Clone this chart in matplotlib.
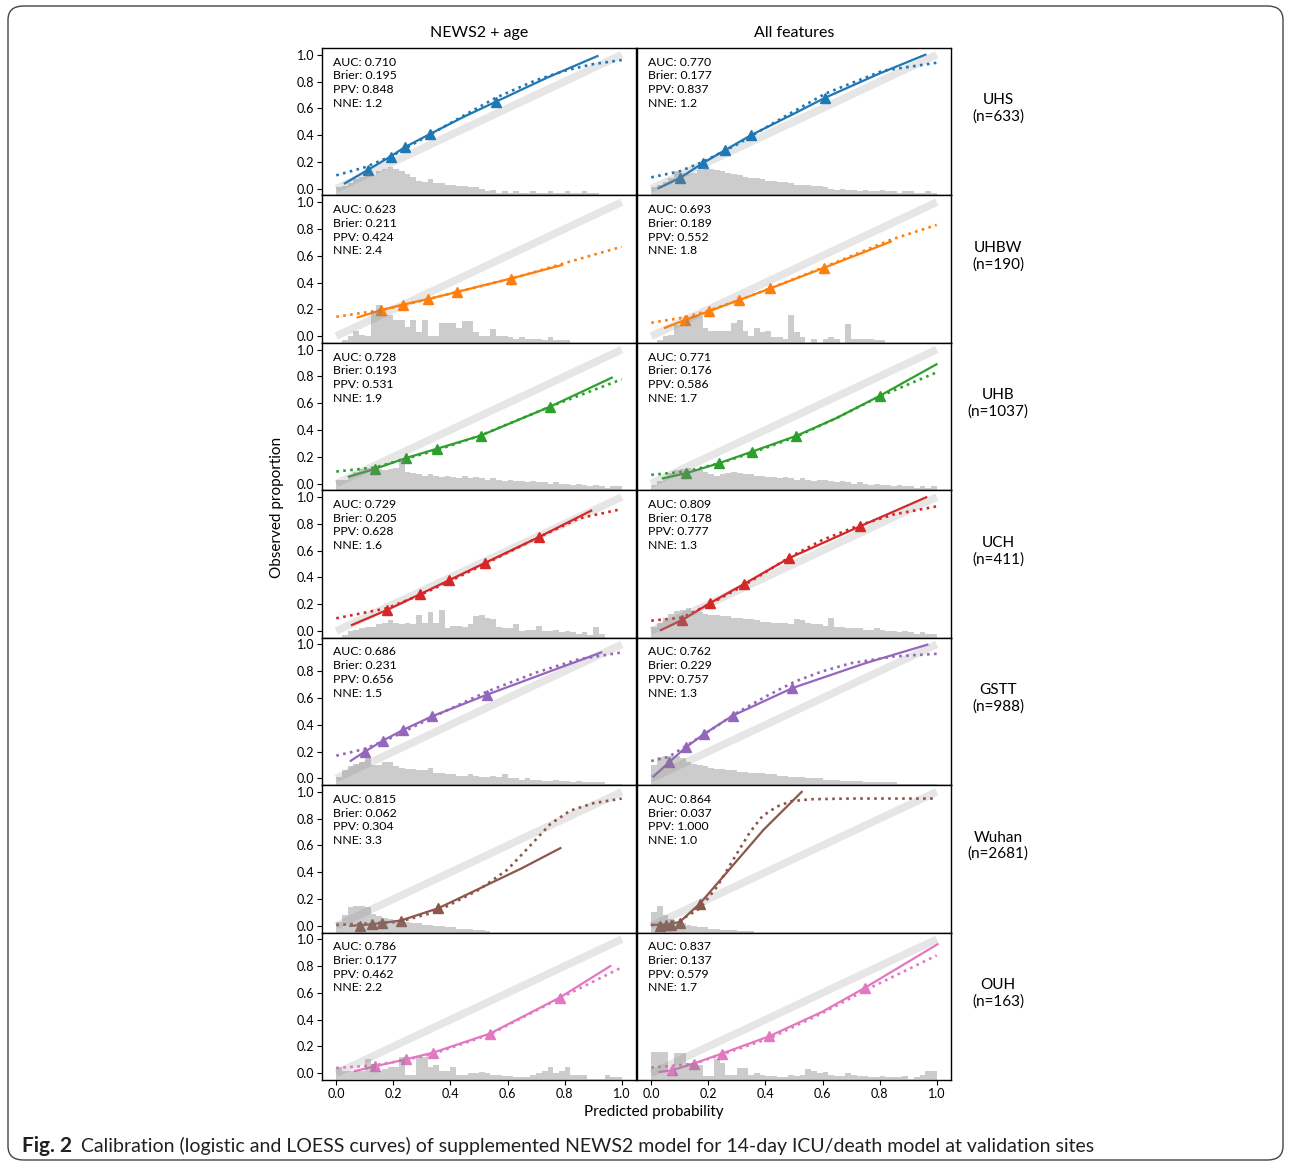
import numpy as np
import matplotlib
matplotlib.use('Agg')
import matplotlib.pyplot as plt
from matplotlib.patches import FancyBboxPatch

plt.rcParams['font.family'] = ['Lato', 'DejaVu Sans']

# sites / models
sites = ['UHS', 'UHBW', 'UHB', 'UCH', 'GSTT', 'Wuhan', 'OUH']
site_n = [633, 190, 1037, 411, 988, 2681, 163]
models = ['NEWS2 + age', 'All features']
site_colors = ['#1f77b4', '#ff7f0e', '#2ca02c', '#d62728', '#9467bd', '#8c564b', '#e377c2']

# metrics (NEWS2 + age)
auc_age = [0.710, 0.623, 0.728, 0.729, 0.686, 0.815, 0.786]
brier_age = [0.195, 0.211, 0.193, 0.205, 0.231, 0.062, 0.177]
ppv_age = [0.848, 0.424, 0.531, 0.628, 0.656, 0.304, 0.462]
nne_age = [1.2, 2.4, 1.9, 1.6, 1.5, 3.3, 2.2]
# metrics (All features)
auc_all = [0.770, 0.693, 0.771, 0.809, 0.762, 0.864, 0.837]
brier_all = [0.177, 0.189, 0.176, 0.178, 0.229, 0.037, 0.137]
ppv_all = [0.837, 0.552, 0.586, 0.777, 0.757, 1.000, 0.579]
nne_all = [1.2, 1.8, 1.7, 1.3, 1.3, 1.0, 1.7]

# logistic fit (solid), LOESS (dotted), binned points (triangles), as (pred, obs)
uhs_age_fit = [(0.03, 0.04), (0.11, 0.14), (0.19, 0.24), (0.24, 0.31), (0.33, 0.41), (0.45, 0.54), (0.56, 0.65), (0.74, 0.83), (0.915, 0.99)]
uhs_age_loess = [(0.0, 0.10), (0.1, 0.16), (0.2, 0.25), (0.3, 0.37), (0.45, 0.55), (0.56, 0.68), (0.7, 0.81), (0.8, 0.88), (0.9, 0.93), (1.0, 0.96)]
uhs_age_bins = [(0.11, 0.14), (0.19, 0.24), (0.24, 0.31), (0.33, 0.41), (0.56, 0.65)]
uhs_all_fit = [(0.026, 0.005), (0.10, 0.08), (0.18, 0.19), (0.26, 0.29), (0.35, 0.40), (0.5, 0.56), (0.61, 0.68), (0.8, 0.86), (0.96, 1.0)]
uhs_all_loess = [(0.0, 0.085), (0.1, 0.13), (0.18, 0.20), (0.3, 0.33), (0.46, 0.53), (0.61, 0.71), (0.81, 0.88), (1.0, 0.94)]
uhs_all_bins = [(0.10, 0.08), (0.18, 0.19), (0.26, 0.29), (0.35, 0.40), (0.61, 0.68)]

uhbw_age_fit = [(0.075, 0.14), (0.157, 0.194), (0.235, 0.236), (0.321, 0.276), (0.423, 0.33), (0.612, 0.43), (0.79, 0.53)]
uhbw_age_loess = [(0.0, 0.145), (0.16, 0.195), (0.32, 0.275), (0.5, 0.37), (0.65, 0.45), (0.8, 0.545), (1.0, 0.667)]
uhbw_age_bins = [(0.157, 0.194), (0.235, 0.236), (0.321, 0.276), (0.423, 0.33), (0.612, 0.43)]
uhbw_all_fit = [(0.048, 0.062), (0.117, 0.12), (0.203, 0.187), (0.307, 0.269), (0.417, 0.356), (0.605, 0.51), (0.839, 0.705)]
uhbw_all_loess = [(0.0, 0.10), (0.117, 0.14), (0.2, 0.19), (0.31, 0.27), (0.42, 0.36), (0.6, 0.51), (0.84, 0.72), (1.0, 0.83)]
uhbw_all_bins = [(0.117, 0.12), (0.203, 0.187), (0.307, 0.269), (0.417, 0.356), (0.605, 0.51)]

uhb_age_fit = [(0.044, 0.052), (0.136, 0.11), (0.243, 0.19), (0.353, 0.26), (0.506, 0.358), (0.75, 0.575), (0.965, 0.79)]
uhb_age_loess = [(0.0, 0.09), (0.136, 0.12), (0.243, 0.185), (0.353, 0.25), (0.506, 0.36), (0.75, 0.575), (1.0, 0.778)]
uhb_age_bins = [(0.136, 0.11), (0.243, 0.19), (0.353, 0.26), (0.506, 0.358), (0.75, 0.575)]
uhb_all_fit = [(0.041, 0.04), (0.122, 0.077), (0.236, 0.151), (0.354, 0.239), (0.508, 0.356), (0.65, 0.49), (0.80, 0.654), (0.999, 0.89)]
uhb_all_loess = [(0.0, 0.065), (0.122, 0.09), (0.236, 0.15), (0.354, 0.23), (0.508, 0.35), (0.65, 0.49), (0.8, 0.65), (1.0, 0.83)]
uhb_all_bins = [(0.122, 0.077), (0.236, 0.151), (0.354, 0.239), (0.508, 0.356), (0.80, 0.654)]

uch_age_fit = [(0.055, 0.045), (0.178, 0.157), (0.295, 0.276), (0.396, 0.38), (0.52, 0.507), (0.709, 0.70), (0.893, 0.898)]
uch_age_loess = [(0.0, 0.095), (0.178, 0.17), (0.295, 0.27), (0.396, 0.37), (0.52, 0.50), (0.709, 0.70), (0.85, 0.84), (1.0, 0.91)]
uch_age_bins = [(0.178, 0.157), (0.295, 0.276), (0.396, 0.38), (0.52, 0.507), (0.709, 0.70)]
uch_all_fit = [(0.034, 0.007), (0.108, 0.082), (0.204, 0.206), (0.324, 0.35), (0.484, 0.545), (0.73, 0.78), (0.963, 0.998)]
uch_all_loess = [(0.0, 0.077), (0.108, 0.10), (0.204, 0.2), (0.324, 0.34), (0.484, 0.55), (0.6, 0.68), (0.73, 0.79), (0.85, 0.87), (1.0, 0.93)]
uch_all_bins = [(0.108, 0.082), (0.204, 0.206), (0.324, 0.35), (0.484, 0.545), (0.73, 0.78)]

gstt_age_fit = [(0.051, 0.132), (0.1, 0.20), (0.164, 0.283), (0.235, 0.363), (0.335, 0.463), (0.527, 0.624), (0.75, 0.80), (0.928, 0.94)]
gstt_age_loess = [(0.0, 0.17), (0.1, 0.22), (0.2, 0.31), (0.35, 0.47), (0.53, 0.65), (0.7, 0.79), (0.85, 0.89), (1.0, 0.94)]
gstt_age_bins = [(0.1, 0.20), (0.164, 0.283), (0.235, 0.363), (0.335, 0.463), (0.527, 0.624)]
gstt_all_fit = [(0.008, 0.015), (0.062, 0.12), (0.122, 0.234), (0.186, 0.333), (0.285, 0.468), (0.494, 0.674), (0.75, 0.86), (0.967, 0.998)]
gstt_all_loess = [(0.0, 0.13), (0.06, 0.16), (0.12, 0.24), (0.2, 0.35), (0.3, 0.49), (0.4, 0.61), (0.5, 0.72), (0.6, 0.80), (0.7, 0.86), (0.85, 0.91), (1.0, 0.93)]
gstt_all_bins = [(0.062, 0.12), (0.122, 0.234), (0.186, 0.333), (0.285, 0.468), (0.494, 0.674)]

wuhan_age_fit = [(0.049, 0.0), (0.125, 0.012), (0.226, 0.04), (0.358, 0.132), (0.503, 0.28), (0.65, 0.43), (0.785, 0.58)]
wuhan_age_loess = [(0.0, 0.007), (0.22, 0.03), (0.352, 0.107), (0.5, 0.27), (0.6, 0.42), (0.68, 0.6), (0.75, 0.76), (0.82, 0.86), (0.9, 0.915), (1.0, 0.95)]
wuhan_age_bins = [(0.084, 0.0), (0.125, 0.012), (0.16, 0.02), (0.226, 0.04), (0.358, 0.132)]
wuhan_all_fit = [(0.002, 0.007), (0.06, 0.01), (0.1, 0.03), (0.17, 0.165), (0.253, 0.37), (0.393, 0.716), (0.527, 1.0)]
wuhan_all_loess = [(0.0, 0.005), (0.1, 0.04), (0.17, 0.13), (0.23, 0.29), (0.30, 0.54), (0.346, 0.70), (0.39, 0.82), (0.44, 0.89), (0.49, 0.93), (0.56, 0.945), (0.7, 0.95), (1.0, 0.95)]
wuhan_all_bins = [(0.03, 0.0), (0.05, 0.005), (0.07, 0.01), (0.1, 0.025), (0.17, 0.165)]

ouh_age_fit = [(0.065, 0.017), (0.136, 0.052), (0.243, 0.104), (0.339, 0.154), (0.538, 0.296), (0.783, 0.565), (0.96, 0.80)]
ouh_age_loess = [(0.0, 0.04), (0.136, 0.06), (0.243, 0.10), (0.339, 0.145), (0.538, 0.29), (0.783, 0.56), (1.0, 0.79)]
ouh_age_bins = [(0.136, 0.052), (0.243, 0.104), (0.339, 0.154), (0.538, 0.296), (0.783, 0.565)]
ouh_all_fit = [(0.029, 0.01), (0.072, 0.022), (0.148, 0.072), (0.247, 0.147), (0.413, 0.276), (0.6, 0.46), (0.75, 0.64), (1.003, 0.963)]
ouh_all_loess = [(0.0, 0.043), (0.148, 0.07), (0.247, 0.14), (0.413, 0.26), (0.6, 0.45), (0.75, 0.62), (1.0, 0.88)]
ouh_all_bins = [(0.072, 0.022), (0.148, 0.072), (0.247, 0.147), (0.413, 0.276), (0.75, 0.64)]

# histogram of predictions, 50 bins of 0.02, bar top in hundredths (bars start at -0.05)
uhs_age_hist = [1, 2, 4, 7, 9, 12, 10, 13, 15, 16, 15, 13, 11, 9, 6, 5, 7, 4, 4, 3, 3, 2, 2, 1, 1, 0, -2, -1, -3, -2, -3, -2, -3, -3, -2, -3, -3, -2, -3, -3, -2, -3, -3, -2, -3, -3, -5, -5, -5, -5]
uhs_all_hist = [1, 3, 5, 8, 13, 12, 11, 12, 14, 16, 15, 14, 13, 12, 11, 10, 9, 8, 8, 7, 6, 6, 5, 5, 4, 3, 3, 3, 2, 2, 1, 0, -1, 0, -1, -1, -2, -1, -2, -2, -1, -2, -2, -3, -2, -2, -3, -3, -2, -3]
uhbw_age_hist = [-5, -3, 0, 4, 1, 0, 19, 23, 16, 16, 12, 12, 7, 12, 3, 12, 0, 0, 10, 10, 10, 6, 11, 11, 3, 0, 0, 5, 0, 0, -1, -2, -1, -2, -2, -2, -3, -1, -3, -3, -3, -5, -5, -5, -5, -5, -5, -5, -5, -5]
uhbw_all_hist = [-5, -3, 0, 1, 8, 8, 13, 15, 15, 6, 4, 4, 4, 4, 10, 12, 4, 0, 6, 3, 4, -1, -1, -2, 16, 3, -1, -5, -2, -5, -2, -1, -2, -5, 9, -2, -2, -2, -2, -3, -3, -5, -5, -5, -5, -5, -5, -5, -5, -5]
uhb_age_hist = [3, 3, 6, 9, 11, 12, 12, 11, 10, 11, 12, 19, 9, 8, 7, 6, 7, 6, 5, 6, 5, 4, 6, 4, 5, 4, 3, 4, 3, 2, 3, 2, 2, 1, 2, 1, 1, 0, 1, 0, 0, -1, 0, -1, -2, -1, -2, -3, -2, -2]
uhb_all_hist = [-1, 2, 5, 8, 10, 11, 12, 11, 10, 9, 7, 6, 7, 8, 9, 8, 7, 7, 6, 6, 5, 5, 4, 5, 4, 3, 4, 3, 2, 3, 3, 2, 1, 2, 1, 0, 1, 0, -1, 0, -1, -1, -2, -1, -2, -2, -3, -2, -3, -2]
uch_age_hist = [-5, -3, 0, 1, 2, 3, 3, 5, 6, 8, 6, 5, 6, 5, 12, 6, 14, 6, 16, 2, 4, 4, 3, 5, 11, 12, 10, 9, 3, 2, 2, 5, 0, 1, 1, 4, 0, 0, 1, -1, 0, -1, -2, -1, -3, 3, -2, -5, -5, -5]
uch_all_hist = [3, 6, 10, 13, 15, 16, 17, 15, 14, 13, 12, 12, 11, 11, 10, 10, 9, 9, 8, 7, 7, 6, 6, 6, 5, 9, 8, 6, 5, 5, 4, 10, 3, 3, 2, 2, 2, 1, 1, 2, 1, 0, 0, -1, 0, -1, -2, -1, -2, -2]
gstt_age_hist = [1, 6, 9, 11, 12, 15, 10, 10, 12, 12, 9, 8, 7, 7, 6, 6, 8, 4, 4, 3, 3, 2, 2, 3, 2, 1, 1, 2, 1, 3, 0, 0, -1, 0, -1, -1, -2, -2, -1, -2, -2, -3, -2, -3, -3, -3, -3, -4, -4, -4]
gstt_all_hist = [10, 16, 17, 17, 17, 15, 12, 11, 10, 9, 8, 7, 7, 6, 6, 5, 5, 4, 4, 4, 3, 3, 2, 2, 1, 1, 1, 0, 0, 0, -1, -1, -1, -2, -2, -2, -2, -3, -3, -3, -3, -3, -3, -4, -4, -4, -4, -4, -4, -4]
wuhan_age_hist = [3, 8, 14, 15, 15, 14, 9, 7, 6, 5, 4, 3, 3, 2, 2, 1, 1, 0, 0, -1, -1, -2, -2, -2, -3, -3, -4, -5, -5, -5, -5, -5, -5, -5, -5, -5, -5, -5, -5, -5, -5, -5, -5, -5, -5, -5, -5, -5, -5, -5]
wuhan_all_hist = [10, 15, 8, 5, 3, 2, 1, 0, -1, -1, -2, -2, -3, -3, -3, -4, -4, -4, -5, -5, -5, -5, -5, -5, -5, -5, -5, -5, -5, -5, -5, -5, -5, -5, -5, -5, -5, -5, -5, -5, -5, -5, -5, -5, -5, -5, -5, -5, -5, -5]
ouh_age_hist = [5, 2, 2, 2, 2, 11, 7, 2, 3, 5, 5, 12, -1, -1, 12, 12, 5, 6, 2, 2, 5, -1, -1, 0, 0, 1, 0, -1, -1, -2, -2, -3, -3, -3, -1, 0, 2, 5, 0, 2, 5, -1, -1, -1, -4, -4, -4, -1, -3, -3]
ouh_all_hist = [16, 16, 16, -1, 15, 15, 8, 8, 6, -2, -2, 11, 8, -1, -1, 4, 4, -1, 0, -1, -2, -2, -3, -3, -1, -2, -1, 3, 2, 0, 1, -1, -2, -2, 0, -1, -2, -2, -3, -3, -2, -3, -3, -3, -2, -4, -3, -1, 2, 2]

age_panels = [
    (uhs_age_fit, uhs_age_loess, uhs_age_bins, uhs_age_hist),
    (uhbw_age_fit, uhbw_age_loess, uhbw_age_bins, uhbw_age_hist),
    (uhb_age_fit, uhb_age_loess, uhb_age_bins, uhb_age_hist),
    (uch_age_fit, uch_age_loess, uch_age_bins, uch_age_hist),
    (gstt_age_fit, gstt_age_loess, gstt_age_bins, gstt_age_hist),
    (wuhan_age_fit, wuhan_age_loess, wuhan_age_bins, wuhan_age_hist),
    (ouh_age_fit, ouh_age_loess, ouh_age_bins, ouh_age_hist),
]
all_panels = [
    (uhs_all_fit, uhs_all_loess, uhs_all_bins, uhs_all_hist),
    (uhbw_all_fit, uhbw_all_loess, uhbw_all_bins, uhbw_all_hist),
    (uhb_all_fit, uhb_all_loess, uhb_all_bins, uhb_all_hist),
    (uch_all_fit, uch_all_loess, uch_all_bins, uch_all_hist),
    (gstt_all_fit, gstt_all_loess, gstt_all_bins, gstt_all_hist),
    (wuhan_all_fit, wuhan_all_loess, wuhan_all_bins, wuhan_all_hist),
    (ouh_all_fit, ouh_all_loess, ouh_all_bins, ouh_all_hist),
]

edges = np.linspace(0, 1, 51)

W, H = 1290, 1164
fig = plt.figure(figsize=(W / 100, H / 100), dpi=100)

# outer frame
frame = FancyBboxPatch((8 / W, 4 / H), (1283 - 8) / W, (1158 - 4) / H,
                       boxstyle='round,pad=0,rounding_size=0.012', transform=fig.transFigure,
                       facecolor='none', edgecolor='#444444', lw=1.0)
fig.patches.append(frame)

col_left = [322, 637]
col_w = 314
top_px, bot_px = 48, 1080
row_h = (bot_px - top_px) / 7


def draw_panel(ax, data, color, stats):
    fit, loess, bins, hist = data
    ax.plot([0, 1], [0, 1], color='#e6e6e6', lw=5.5, solid_capstyle='butt', zorder=1)
    ax.plot(*zip(*fit), color=color, lw=1.6, zorder=3)
    ax.plot(*zip(*loess), color=color, lw=1.9, ls=':', zorder=3)
    ax.plot(*zip(*bins), ls='none', marker='^', color=color, ms=7, zorder=4)
    tops = np.array(hist) / 100.0
    ax.bar(edges[:-1], tops + 0.05, width=0.02, align='edge', bottom=-0.05,
           color='gray', alpha=0.4, lw=0, zorder=5)
    ax.text(-0.01, 0.985, 'AUC: %.3f\nBrier: %.3f\nPPV: %.3f\nNNE: %.1f' % stats,
            fontsize=8.8, va='top', ha='left', linespacing=1.3, zorder=6)
    ax.set_xlim(-0.05, 1.05)
    ax.set_ylim(-0.05, 1.05)
    for s in ax.spines.values():
        s.set_linewidth(1.0)


for r in range(7):
    y0 = 1 - (top_px + row_h * (r + 1)) / H
    for c in range(2):
        ax = fig.add_axes([col_left[c] / W, y0, col_w / W, row_h / H])
        if c == 0:
            stats = (auc_age[r], brier_age[r], ppv_age[r], nne_age[r])
            draw_panel(ax, age_panels[r], site_colors[r], stats)
            ax.set_yticks([0, 0.2, 0.4, 0.6, 0.8, 1.0])
            ax.set_yticklabels(['0.0', '0.2', '0.4', '0.6', '0.8', '1.0'], fontsize=9)
        else:
            stats = (auc_all[r], brier_all[r], ppv_all[r], nne_all[r])
            draw_panel(ax, all_panels[r], site_colors[r], stats)
            ax.set_yticks([])
        if r == 6:
            ax.set_xticks([0, 0.2, 0.4, 0.6, 0.8, 1.0])
            ax.set_xticklabels(['0.0', '0.2', '0.4', '0.6', '0.8', '1.0'], fontsize=9)
        else:
            ax.set_xticks([])
        ax.tick_params(length=3.5, width=0.8, pad=2)
        if r == 0:
            ax.set_title(models[c], fontsize=11.5, pad=8)
    fig.text(998 / W, 1 - (top_px + row_h * (r + 0.5) - 13) / H, '%s\n(n=%d)' % (sites[r], site_n[r]),
             ha='center', va='center', fontsize=11, linespacing=1.2)

fig.text(277 / W, 1 - 507 / H, 'Observed proportion', rotation=90, ha='center', va='center', fontsize=11)
fig.text(654 / W, 1 - 1112 / H, 'Predicted probability', ha='center', va='center', fontsize=11)

# caption
fig.text(22 / W, 1 - 1146 / H, 'Fig. 2', fontsize=15, fontweight='bold', ha='left', va='center', color='#231f20')
fig.text(81 / W, 1 - 1146 / H,
         'Calibration (logistic and LOESS curves) of supplemented NEWS2 model for 14-day ICU/death model at validation sites',
         fontsize=14, ha='left', va='center', color='#231f20')

fig.savefig('out.png', dpi=100)
